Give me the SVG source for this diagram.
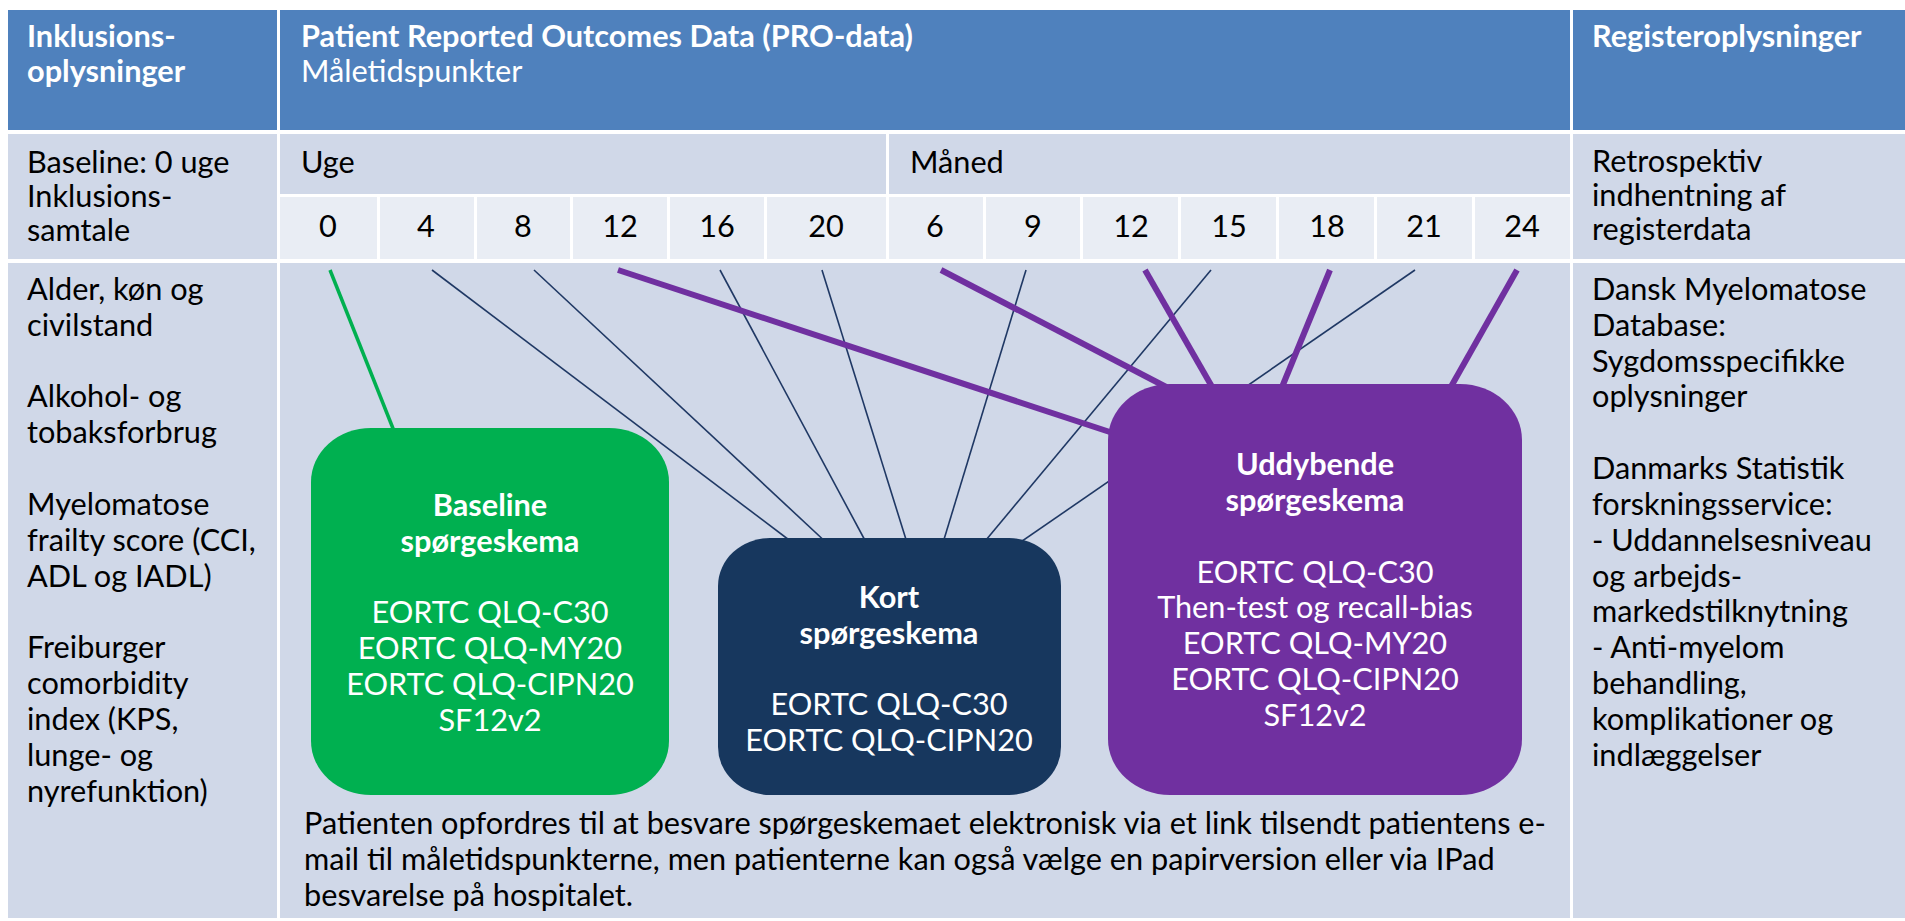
<svg xmlns="http://www.w3.org/2000/svg" width="1905" height="921" viewBox="0 0 1905 921">
<style>
.hd{fill:#4F81BD}
.c1{fill:#D0D8E8}
.c2{fill:#E9EDF4}
text{font-family:Lato,"Open Sans","Liberation Sans",sans-serif;font-size:30.7px;fill:#000}
.w{fill:#fff}
.b{font-weight:bold}
.m{text-anchor:middle}
.nv{stroke:#1F3864;stroke-width:1.6;fill:none}
.pu{stroke:#7030A0;stroke-width:6;fill:none}
.gr{stroke:#00B050;stroke-width:3.5;fill:none}
</style>
<rect width="1905" height="921" fill="#fff"/>
<g id="table">
  <rect class="hd" x="8" y="10" width="269" height="120"/>
  <rect class="hd" x="280" y="10" width="1290" height="120"/>
  <rect class="hd" x="1573" y="10" width="332" height="120"/>
  <rect class="c1" x="8" y="134" width="269" height="125"/>
  <rect class="c1" x="280" y="134" width="606" height="60"/>
  <rect class="c1" x="889" y="134" width="681" height="60"/>
  <rect class="c1" x="1573" y="134" width="332" height="125"/>
  <rect class="c2" x="280" y="197" width="97" height="62"/>
  <rect class="c2" x="380" y="197" width="94" height="62"/>
  <rect class="c2" x="477" y="197" width="93" height="62"/>
  <rect class="c2" x="573" y="197" width="94" height="62"/>
  <rect class="c2" x="670" y="197" width="94" height="62"/>
  <rect class="c2" x="767" y="197" width="119" height="62"/>
  <rect class="c2" x="889" y="197" width="94" height="62"/>
  <rect class="c2" x="986" y="197" width="94" height="62"/>
  <rect class="c2" x="1083" y="197" width="95" height="62"/>
  <rect class="c2" x="1181" y="197" width="95" height="62"/>
  <rect class="c2" x="1279" y="197" width="95" height="62"/>
  <rect class="c2" x="1377" y="197" width="95" height="62"/>
  <rect class="c2" x="1475" y="197" width="95" height="62"/>
  <rect class="c1" x="8" y="263" width="269" height="655"/>
  <rect class="c1" x="280" y="263" width="1290" height="655"/>
  <rect class="c1" x="1573" y="263" width="332" height="655"/>

  <text class="w b" x="27" y="47">Inklusions-</text>
  <text class="w b" x="27" y="82">oplysninger</text>
  <text class="w b" x="301" y="47">Patient Reported Outcomes Data (PRO-data)</text>
  <text class="w" x="301" y="82">Måletidspunkter</text>
  <text class="w b" x="1592" y="47">Registeroplysninger</text>

  <text x="27" y="173">Baseline: 0 uge</text>
  <text x="27" y="207">Inklusions-</text>
  <text x="27" y="241">samtale</text>
  <text x="301" y="173">Uge</text>
  <text x="910" y="173">Måned</text>
  <text x="1592" y="172">Retrospektiv</text>
  <text x="1592" y="206">indhentning af</text>
  <text x="1592" y="240">registerdata</text>

  <g class="m">
    <text x="328" y="237">0</text>
    <text x="426" y="237">4</text>
    <text x="523" y="237">8</text>
    <text x="620" y="237">12</text>
    <text x="717" y="237">16</text>
    <text x="826" y="237">20</text>
    <text x="935" y="237">6</text>
    <text x="1033" y="237">9</text>
    <text x="1131" y="237">12</text>
    <text x="1229" y="237">15</text>
    <text x="1327" y="237">18</text>
    <text x="1424" y="237">21</text>
    <text x="1522" y="237">24</text>
  </g>

  <text x="27" y="300">Alder, køn og</text>
  <text x="27" y="336">civilstand</text>
  <text x="27" y="407">Alkohol- og</text>
  <text x="27" y="443">tobaksforbrug</text>
  <text x="27" y="515">Myelomatose</text>
  <text x="27" y="551">frailty score (CCI,</text>
  <text x="27" y="587">ADL og IADL)</text>
  <text x="27" y="658">Freiburger</text>
  <text x="27" y="694">comorbidity</text>
  <text x="27" y="730">index (KPS,</text>
  <text x="27" y="766">lunge- og</text>
  <text x="27" y="802">nyrefunktion)</text>

  <text x="1592" y="300">Dansk Myelomatose</text>
  <text x="1592" y="336">Database:</text>
  <text x="1592" y="372">Sygdomsspecifikke</text>
  <text x="1592" y="407">oplysninger</text>
  <text x="1592" y="479">Danmarks Statistik</text>
  <text x="1592" y="515">forskningsservice:</text>
  <text x="1592" y="551">- Uddannelsesniveau</text>
  <text x="1592" y="587">og arbejds-</text>
  <text x="1592" y="622">markedstilknytning</text>
  <text x="1592" y="658">- Anti-myelom</text>
  <text x="1592" y="694">behandling,</text>
  <text x="1592" y="730">komplikationer og</text>
  <text x="1592" y="766">indlæggelser</text>

  <text x="304" y="834">Patienten opfordres til at besvare spørgeskemaet elektronisk via et link tilsendt patientens e-</text>
  <text x="304" y="870">mail til måletidspunkterne, men patienterne kan også vælge en papirversion eller via IPad</text>
  <text x="304" y="906">besvarelse på hospitalet.</text>
</g>
<g id="connectors">
  <line class="gr" x1="330" y1="270" x2="396" y2="436"/>
  <line class="nv" x1="432" y1="270" x2="797" y2="546"/>
  <line class="nv" x1="534" y1="270" x2="830" y2="546"/>
  <line class="nv" x1="720" y1="270" x2="868" y2="546"/>
  <line class="nv" x1="822" y1="270" x2="908" y2="546"/>
  <line class="nv" x1="1026" y1="270" x2="942" y2="546"/>
  <line class="nv" x1="1211" y1="270" x2="981" y2="546"/>
  <line class="nv" x1="1415" y1="270" x2="1015" y2="546"/>
  <line class="pu" x1="618" y1="270" x2="1125" y2="437"/>
  <line class="pu" x1="941" y1="270" x2="1172" y2="390"/>
  <line class="pu" x1="1145" y1="270" x2="1215" y2="392"/>
  <line class="pu" x1="1330" y1="270" x2="1280" y2="392"/>
  <line class="pu" x1="1517" y1="270" x2="1448" y2="392"/>
</g>
<g id="baseline-box">
  <rect x="311" y="428" width="358" height="367" rx="60" ry="54" fill="#00B050"/>
  <g class="m">
    <text class="w b" x="490" y="516">Baseline</text>
    <text class="w b" x="490" y="552">spørgeskema</text>
    <text class="w" x="490" y="623">EORTC QLQ-C30</text>
    <text class="w" x="490" y="659">EORTC QLQ-MY20</text>
    <text class="w" x="490" y="695">EORTC QLQ-CIPN20</text>
    <text class="w" x="490" y="731">SF12v2</text>
  </g>
</g>
<g id="kort-box">
  <rect x="718" y="538" width="343" height="257" rx="52" ry="48" fill="#17375E"/>
  <g class="m">
    <text class="w b" x="889" y="608">Kort</text>
    <text class="w b" x="889" y="644">spørgeskema</text>
    <text class="w" x="889" y="715">EORTC QLQ-C30</text>
    <text class="w" x="889" y="751">EORTC QLQ-CIPN20</text>
  </g>
</g>
<g id="uddybende-box">
  <rect x="1108" y="384" width="414" height="411" rx="62" ry="56" fill="#7030A0"/>
  <g class="m">
    <text class="w b" x="1315" y="475">Uddybende</text>
    <text class="w b" x="1315" y="511">spørgeskema</text>
    <text class="w" x="1315" y="583">EORTC QLQ-C30</text>
    <text class="w" x="1315" y="618">Then-test og recall-bias</text>
    <text class="w" x="1315" y="654">EORTC QLQ-MY20</text>
    <text class="w" x="1315" y="690">EORTC QLQ-CIPN20</text>
    <text class="w" x="1315" y="726">SF12v2</text>
  </g>
</g>
</svg>
